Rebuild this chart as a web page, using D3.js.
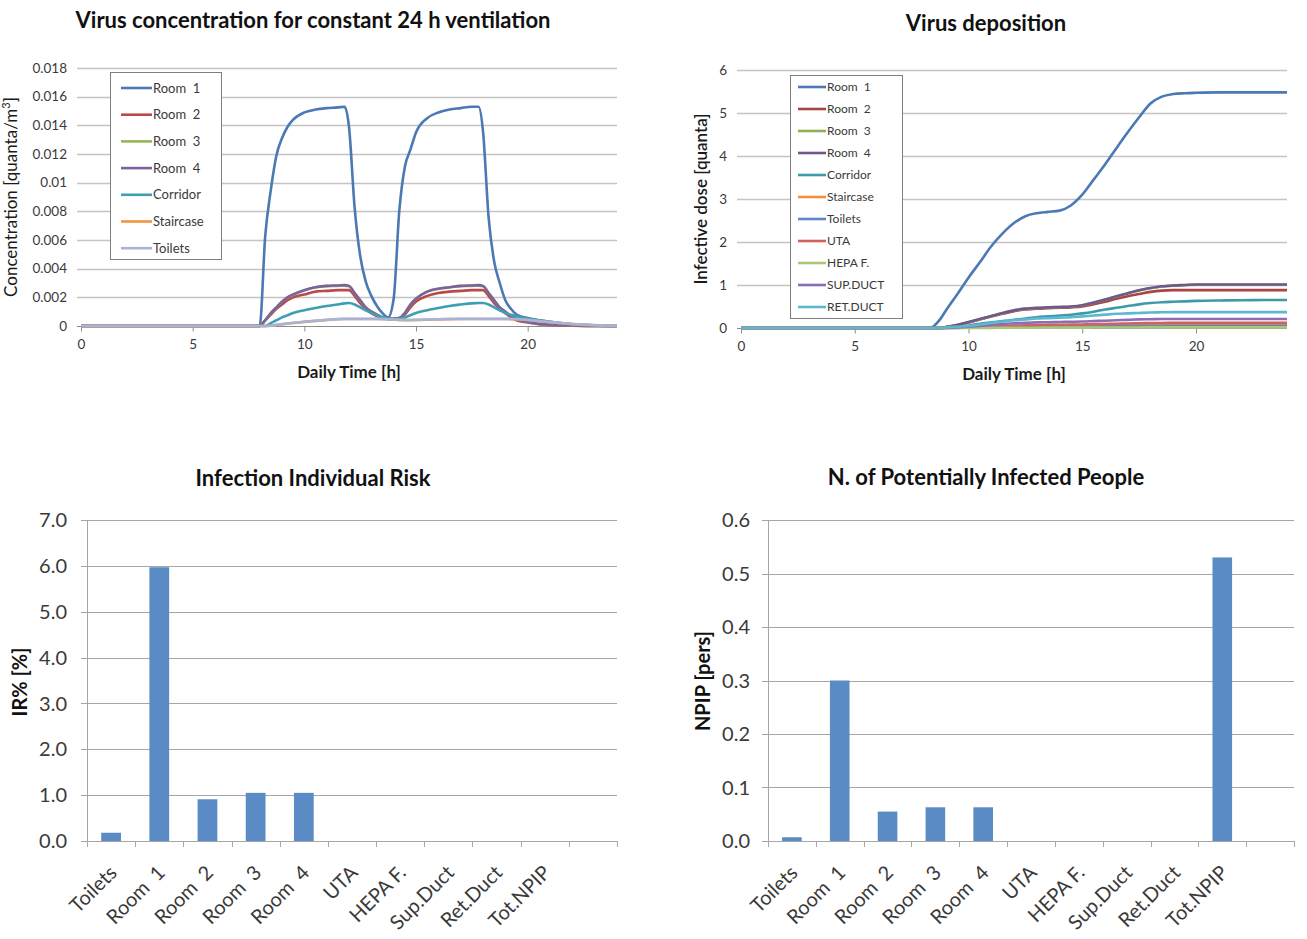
<!DOCTYPE html>
<html><head><meta charset="utf-8">
<script src="https://cdn.jsdelivr.net/npm/d3@7"></script>
<style>
body{margin:0;background:#fff}
svg{font-family:Lato,"Open Sans",sans-serif}
</style>
</head><body>
<svg id="chart" width="1307" height="939"></svg>
<script>
// ---------- DATA: virus concentration (quanta/m3) ----------
const concTime = [0, 8, 8.25, 8.5, 8.75, 9, 9.25, 9.5, 10, 10.5, 11, 11.5, 11.8, 12, 12.25, 12.5, 12.75, 13, 13.25, 13.5, 13.75, 14, 14.25, 14.5, 14.75, 15, 15.5, 16, 16.5, 17, 17.5, 17.8, 18, 18.25, 18.5, 18.75, 19, 19.25, 19.5, 20, 20.5, 21, 22, 23, 24];
const concRoom1 = [0, 0, 0.0063, 0.0095, 0.0119, 0.0131, 0.0139, 0.0144, 0.0149, 0.0151, 0.0152, 0.01525, 0.0153, 0.0139, 0.0083, 0.0049, 0.0031, 0.0021, 0.0014, 0.0009, 0.0006, 0.0019, 0.0080, 0.0111, 0.0123, 0.0135, 0.0145, 0.0149, 0.0151, 0.0152, 0.0153, 0.0153, 0.0136, 0.0076, 0.0045, 0.0030, 0.0018, 0.0012, 0.0008, 0.00055, 0.0004, 0.0003, 0.00012, 0.00004, 0];
const concRoom2 = [0, 0, 0.0004, 0.0008, 0.0012, 0.0015, 0.0018, 0.0020, 0.0022, 0.0024, 0.00245, 0.0025, 0.0025, 0.0025, 0.0021, 0.0016, 0.0012, 0.0009, 0.0007, 0.0006, 0.0005, 0.0005, 0.00055, 0.0008, 0.0013, 0.0017, 0.0021, 0.0023, 0.0024, 0.00245, 0.0025, 0.0025, 0.0025, 0.0021, 0.0016, 0.0012, 0.0009, 0.0006, 0.0004, 0.00025, 0.00012, 0.00008, 0.00002, 0, 0];
const concRoom3 = [0, 0, 0.0004, 0.0009, 0.0013, 0.0017, 0.0020, 0.0022, 0.0025, 0.0027, 0.00278, 0.0028, 0.00282, 0.00277, 0.0023, 0.0018, 0.0013, 0.0010, 0.0008, 0.0006, 0.0005, 0.0005, 0.00055, 0.0009, 0.0015, 0.0019, 0.0024, 0.0026, 0.0027, 0.00278, 0.0028, 0.00282, 0.00277, 0.0023, 0.0018, 0.0013, 0.0010, 0.0007, 0.0005, 0.0003, 0.00015, 0.0001, 0.00003, 0, 0];
const concRoom4 = [0, 0, 0.0004, 0.0009, 0.0013, 0.0017, 0.0020, 0.0022, 0.0025, 0.0027, 0.0028, 0.00283, 0.00285, 0.0028, 0.0023, 0.0018, 0.0013, 0.0010, 0.0008, 0.0006, 0.0005, 0.0005, 0.00055, 0.0009, 0.0015, 0.0019, 0.0024, 0.0026, 0.0027, 0.0028, 0.00283, 0.00285, 0.0028, 0.0023, 0.0018, 0.0013, 0.0010, 0.0007, 0.0005, 0.0003, 0.00015, 0.0001, 0.00003, 0, 0];
const concCorridor = [0, 0, 0, 0.0002, 0.0004, 0.0006, 0.00075, 0.0009, 0.0011, 0.00125, 0.0014, 0.0015, 0.00158, 0.0016, 0.0015, 0.0013, 0.0011, 0.0009, 0.00075, 0.0006, 0.0005, 0.00048, 0.0005, 0.0006, 0.00075, 0.0009, 0.0011, 0.00125, 0.0014, 0.0015, 0.00158, 0.0016, 0.0016, 0.0015, 0.0013, 0.0011, 0.0009, 0.00078, 0.00068, 0.0005, 0.0004, 0.0003, 0.00012, 0.00004, 0];
const concStaircase = [0, 0, 0, 0.00003, 0.00008, 0.00012, 0.00017, 0.00021, 0.00029, 0.00036, 0.00042, 0.00047, 0.00049, 0.00049, 0.00049, 0.00049, 0.00049, 0.00049, 0.00049, 0.00048, 0.00046, 0.00044, 0.00042, 0.00041, 0.00041, 0.00042, 0.00044, 0.00046, 0.00048, 0.00049, 0.00049, 0.00049, 0.00049, 0.00049, 0.00049, 0.00049, 0.00049, 0.00048, 0.00047, 0.00042, 0.00034, 0.00026, 0.00013, 0.00005, 0.00002];
const concToilets = [0, 0, 0, 0.00003, 0.00008, 0.00013, 0.00018, 0.00022, 0.0003, 0.00037, 0.00043, 0.00048, 0.0005, 0.0005, 0.0005, 0.0005, 0.0005, 0.0005, 0.0005, 0.00049, 0.00047, 0.00045, 0.00043, 0.00042, 0.00042, 0.00043, 0.00045, 0.00047, 0.00049, 0.0005, 0.0005, 0.0005, 0.0005, 0.0005, 0.0005, 0.0005, 0.0005, 0.00049, 0.00048, 0.00043, 0.00035, 0.00027, 0.00014, 0.00006, 0.00002];
const concNames = ["Room 1", "Room 2", "Room 3", "Room 4", "Corridor", "Staircase", "Toilets"];
const concYTicks = [0, 0.002, 0.004, 0.006, 0.008, 0.01, 0.012, 0.014, 0.016, 0.018];
const timeTicks = [0, 5, 10, 15, 20];

// ---------- DATA: virus deposition (infective dose, quanta) ----------
const doseTime = [0, 8, 8.3, 8.75, 9, 9.5, 10, 10.5, 11, 11.5, 12, 12.5, 13, 13.5, 14, 14.5, 15, 15.5, 16, 16.5, 17, 17.5, 18, 18.5, 19, 19.5, 20, 21, 22, 23, 24];
const doseRoom1 = [0, 0, 0, 0.2, 0.4, 0.78, 1.17, 1.53, 1.9, 2.2, 2.44, 2.6, 2.67, 2.7, 2.73, 2.85, 3.1, 3.45, 3.8, 4.18, 4.55, 4.9, 5.22, 5.38, 5.44, 5.46, 5.47, 5.48, 5.48, 5.48, 5.48];
const doseRoom2 = [0, 0, 0, 0, 0.02, 0.07, 0.13, 0.2, 0.27, 0.33, 0.39, 0.43, 0.45, 0.46, 0.47, 0.48, 0.5, 0.55, 0.61, 0.68, 0.74, 0.79, 0.84, 0.87, 0.88, 0.88, 0.88, 0.88, 0.88, 0.88, 0.88];
const doseRoom3 = [0, 0, 0, 0, 0.02, 0.07, 0.135, 0.205, 0.275, 0.345, 0.405, 0.445, 0.465, 0.475, 0.485, 0.495, 0.525, 0.585, 0.655, 0.735, 0.805, 0.875, 0.925, 0.965, 0.985, 0.995, 1.005, 1.005, 1.005, 1.005, 1.005];
const doseRoom4 = [0, 0, 0, 0, 0.02, 0.07, 0.14, 0.21, 0.28, 0.35, 0.41, 0.45, 0.47, 0.48, 0.49, 0.5, 0.53, 0.59, 0.66, 0.74, 0.81, 0.88, 0.93, 0.97, 0.99, 1.0, 1.01, 1.01, 1.01, 1.01, 1.01];
const doseCorridor = [0, 0, 0, 0, 0.01, 0.03, 0.06, 0.1, 0.13, 0.16, 0.19, 0.22, 0.25, 0.27, 0.29, 0.31, 0.34, 0.38, 0.43, 0.47, 0.51, 0.55, 0.58, 0.6, 0.61, 0.62, 0.63, 0.64, 0.645, 0.65, 0.65];
const doseStaircase = [0, 0, 0, 0, 0.002, 0.006, 0.012, 0.019, 0.026, 0.033, 0.04, 0.045, 0.049, 0.052, 0.054, 0.056, 0.059, 0.063, 0.067, 0.071, 0.075, 0.078, 0.08, 0.082, 0.083, 0.084, 0.084, 0.084, 0.084, 0.084, 0.084];
const doseToilets = [0, 0, 0, 0, 0.001, 0.003, 0.006, 0.01, 0.014, 0.018, 0.022, 0.025, 0.027, 0.029, 0.03, 0.031, 0.033, 0.035, 0.037, 0.039, 0.041, 0.043, 0.045, 0.046, 0.047, 0.047, 0.047, 0.047, 0.047, 0.047, 0.047];
const doseUTA = [0, 0, 0, 0, 0.003, 0.008, 0.016, 0.026, 0.036, 0.046, 0.055, 0.062, 0.068, 0.072, 0.075, 0.078, 0.082, 0.088, 0.094, 0.1, 0.106, 0.111, 0.115, 0.118, 0.12, 0.12, 0.12, 0.12, 0.12, 0.12, 0.12];
const doseHEPA = [0, 0, 0, 0, 0, 0.001, 0.002, 0.003, 0.004, 0.005, 0.006, 0.007, 0.0075, 0.008, 0.0085, 0.009, 0.0095, 0.01, 0.011, 0.012, 0.013, 0.013, 0.014, 0.014, 0.014, 0.014, 0.014, 0.014, 0.014, 0.014, 0.014];
const doseSupDuct = [0, 0, 0, 0, 0.005, 0.015, 0.03, 0.05, 0.07, 0.09, 0.11, 0.12, 0.13, 0.135, 0.14, 0.145, 0.15, 0.16, 0.17, 0.18, 0.19, 0.2, 0.205, 0.21, 0.21, 0.21, 0.21, 0.21, 0.21, 0.21, 0.21];
const doseRetDuct = [0, 0, 0, 0, 0.01, 0.03, 0.05, 0.08, 0.12, 0.15, 0.18, 0.2, 0.22, 0.23, 0.24, 0.25, 0.27, 0.29, 0.31, 0.33, 0.34, 0.35, 0.36, 0.365, 0.37, 0.37, 0.37, 0.37, 0.37, 0.37, 0.37];
const doseNames = ["Room 1", "Room 2", "Room 3", "Room 4", "Corridor", "Staircase", "Toilets", "UTA", "HEPA F.", "SUP.DUCT", "RET.DUCT"];
const doseYTicks = [0, 1, 2, 3, 4, 5, 6];

// ---------- DATA: bar charts ----------
const barCategories = ["Toilets", "Room 1", "Room 2", "Room 3", "Room 4", "UTA", "HEPA F.", "Sup.Duct", "Ret.Duct", "Tot.NPIP", ""];
const irValues = [0.18, 5.97, 0.91, 1.05, 1.05, 0, 0, 0, 0, 0, null];
const npipValues = [0.007, 0.30, 0.055, 0.063, 0.063, 0, 0, 0, 0, 0.53, null];
const irTicks = [0, 1, 2, 3, 4, 5, 6, 7];
const npipTicks = [0, 0.1, 0.2, 0.3, 0.4, 0.5, 0.6];

// ---------- STYLE ----------
const concColors = ["#4a79b3", "#b84a48", "#94b556", "#7d62a0", "#3f9fb2", "#f29443", "#a8b3d6"];
const doseColors = ["#4a79b3", "#a84442", "#8fae55", "#6f5892", "#3c9aab", "#f08f3f", "#5b88c6", "#d0625e", "#a9c77a", "#8c6db3", "#5cb8d0"];
const gridColor = "#c4c4c4";
const axisColor = "#8c8c8c";
const textColor = "#3a3a3a";
const barColor = "#5b8bc4";

const svg = d3.select("#chart");

function title(x, y, txt, size) {
  svg.append("text").attr("x", x).attr("y", y).attr("text-anchor", "middle")
    .attr("font-weight", "bold").attr("font-size", size).attr("fill", "#111").text(txt);
}

function lineChart(o) {
  const x = d3.scaleLinear().domain([0, 24]).range([o.x0, o.x1]);
  const y = d3.scaleLinear().domain([0, o.yMax]).range([o.y0, o.y1]);
  const g = svg.append("g");
  g.selectAll(".grid").data(o.yTicks).join("line")
    .attr("x1", o.x0 - 4).attr("x2", o.x1)
    .attr("y1", d => Math.round(y(d)) + 0.5).attr("y2", d => Math.round(y(d)) + 0.5)
    .attr("stroke", d => d === 0 ? axisColor : gridColor).attr("stroke-width", d => d === 0 ? 1 : 1.3);
  g.selectAll(".yl").data(o.yTicks).join("text")
    .attr("x", o.yLabelX).attr("y", d => y(d)).attr("dy", "0.35em")
    .attr("text-anchor", "end").attr("font-size", o.tickSize).attr("fill", textColor)
    .text(o.yFormat);
  const xa = d3.axisBottom(x).tickValues(timeTicks).tickSize(5).tickPadding(8).tickFormat(d3.format("d"));
  const ax = g.append("g").attr("transform", `translate(0,${Math.round(o.y0) + 0.5})`).call(xa);
  ax.select(".domain").remove();
  ax.selectAll("line").attr("stroke", axisColor);
  ax.selectAll("text").attr("font-size", o.tickSize).attr("fill", textColor).attr("font-family", "Lato");
  const line = d3.line().x((d, i) => x(o.time[i])).y(d => y(d)).curve(d3.curveMonotoneX);
  o.series.forEach((vals, i) => {
    g.append("path").attr("d", line(vals)).attr("fill", "none")
      .attr("stroke", o.colors[i]).attr("stroke-width", 2.6).attr("stroke-linejoin", "round");
  });
  const L = o.legend;
  g.append("rect").attr("x", L.x + 0.5).attr("y", L.y + 0.5).attr("width", L.w).attr("height", L.h)
    .attr("fill", "#fff").attr("stroke", "#7f7f7f").attr("stroke-width", 1);
  o.names.forEach((n, i) => {
    const yy = L.y + L.first + i * L.step;
    g.append("line").attr("x1", L.x + L.lx1).attr("x2", L.x + L.lx2).attr("y1", yy).attr("y2", yy)
      .attr("stroke", o.colors[i]).attr("stroke-width", 2.6);
    g.append("text").attr("x", L.x + L.lx2 + 1).attr("y", yy).attr("dy", "0.35em")
      .attr("font-size", L.size).attr("fill", textColor).attr("xml:space", "preserve")
      .text(n.replace("Room ", "Room  "));
  });
  svg.append("text").attr("x", o.xTitle[0]).attr("y", o.xTitle[1]).attr("text-anchor", "middle")
    .attr("font-weight", "bold").attr("font-size", 17).attr("fill", "#1a1a1a").text("Daily Time [h]");
  const yt = svg.append("text").attr("transform", `translate(${o.yTitle[0]},${o.yTitle[1]}) rotate(-90)`)
    .attr("text-anchor", "middle").attr("font-size", o.yTitleSize).attr("font-weight", o.yTitleWeight).attr("fill", "#1a1a1a");
  o.yTitleFn(yt);
}

function barChart(o) {
  const x = d3.scaleBand().domain(barCategories).range([o.x0, o.x1]);
  const y = d3.scaleLinear().domain([0, o.yMax]).range([o.y0, o.y1]);
  const g = svg.append("g");
  g.selectAll(".grid").data(o.yTicks).join("line")
    .attr("x1", o.x0 - 6).attr("x2", o.x1)
    .attr("y1", d => Math.round(y(d)) + 0.5).attr("y2", d => Math.round(y(d)) + 0.5)
    .attr("stroke", "#a6a6a6").attr("stroke-width", 1);
  g.append("line").attr("x1", o.x0 + 0.5).attr("x2", o.x0 + 0.5).attr("y1", o.y1).attr("y2", o.y0 + 6)
    .attr("stroke", "#a6a6a6");
  g.selectAll(".yl").data(o.yTicks).join("text")
    .attr("x", o.yLabelX).attr("y", d => y(d)).attr("dy", "0.36em").attr("text-anchor", "end")
    .attr("font-size", 20).attr("fill", textColor).text(d => d.toFixed(1));
  const bounds = barCategories.map(c => x(c)).concat([o.x1]);
  g.selectAll(".xt").data(bounds).join("line")
    .attr("x1", d => Math.round(d) + 0.5).attr("x2", d => Math.round(d) + 0.5)
    .attr("y1", o.y0).attr("y2", o.y0 + 6).attr("stroke", "#a6a6a6");
  const bw = x.bandwidth() * 0.41;
  g.selectAll(".bar").data(barCategories.map((c, i) => ({ c, v: o.values[i] })).filter(d => d.v))
    .join("rect")
    .attr("x", d => x(d.c) + x.bandwidth() / 2 - bw / 2).attr("width", bw)
    .attr("y", d => y(d.v)).attr("height", d => o.y0 - y(d.v)).attr("fill", barColor);
  g.selectAll(".xl").data(barCategories.filter(c => c)).join("text")
    .attr("transform", d => `translate(${x(d) + x.bandwidth() / 2 + 7},${o.y0 + 33}) rotate(-45)`)
    .attr("text-anchor", "end").attr("font-size", 20).attr("fill", textColor)
    .attr("xml:space", "preserve").text(d => d.replace("Room ", "Room  "));
  svg.append("text").attr("transform", `translate(${o.yTitle[0]},${o.yTitle[1]}) rotate(-90)`)
    .attr("text-anchor", "middle").attr("font-size", 20).attr("font-weight", "bold").attr("fill", "#111")
    .text(o.yTitleText);
}

// ---------- TOP LEFT ----------
title(313, 28, "Virus concentration for constant 24 h ventilation", 22);
lineChart({
  x0: 81, x1: 617, y0: 326, y1: 68, yMax: 0.018, yTicks: concYTicks,
  yFormat: d => d === 0 ? "0" : String(+d.toFixed(3)), yLabelX: 67, tickSize: 13.5,
  time: concTime,
  series: [concRoom1, concRoom2, concRoom3, concRoom4, concCorridor, concStaircase, concToilets],
  colors: concColors, names: concNames,
  legend: { x: 110, y: 72, w: 111, h: 187, first: 16, step: 26.7, lx1: 11, lx2: 42, size: 13 },
  xTitle: [349, 378], yTitle: [17, 197], yTitleSize: 17, yTitleWeight: "normal",
  yTitleFn: t => { t.append("tspan").text("Concentration [quanta/m"); t.append("tspan").attr("font-size", 11).attr("dy", -7).text("3"); t.append("tspan").attr("dy", 7).text("]"); }
});

// ---------- TOP RIGHT ----------
title(986, 31, "Virus deposition", 22);
lineChart({
  x0: 741, x1: 1287, y0: 328, y1: 70, yMax: 6, yTicks: doseYTicks,
  yFormat: d => String(d), yLabelX: 727, tickSize: 13.5,
  time: doseTime,
  series: [doseRoom1, doseRoom2, doseRoom3, doseRoom4, doseCorridor, doseStaircase, doseToilets, doseUTA, doseHEPA, doseSupDuct, doseRetDuct],
  colors: doseColors, names: doseNames,
  legend: { x: 790, y: 75, w: 112, h: 243, first: 12, step: 22, lx1: 8, lx2: 36, size: 12 },
  xTitle: [1014, 380], yTitle: [707, 199], yTitleSize: 17, yTitleWeight: 600,
  yTitleFn: t => t.text("Infective dose [quanta]")
});

// ---------- BOTTOM LEFT ----------
title(313, 486, "Infection Individual Risk", 22);
barChart({
  x0: 87, x1: 617, y0: 841, y1: 520, yMax: 7, yTicks: irTicks, yLabelX: 67,
  values: irValues, yTitle: [27, 682], yTitleText: "IR% [%]"
});

// ---------- BOTTOM RIGHT ----------
title(986, 485, "N. of Potentially Infected People", 22);
barChart({
  x0: 768, x1: 1294, y0: 841, y1: 520, yMax: 0.6, yTicks: npipTicks, yLabelX: 750,
  values: npipValues, yTitle: [710, 681], yTitleText: "NPIP [pers]"
});
</script>
</body></html>
